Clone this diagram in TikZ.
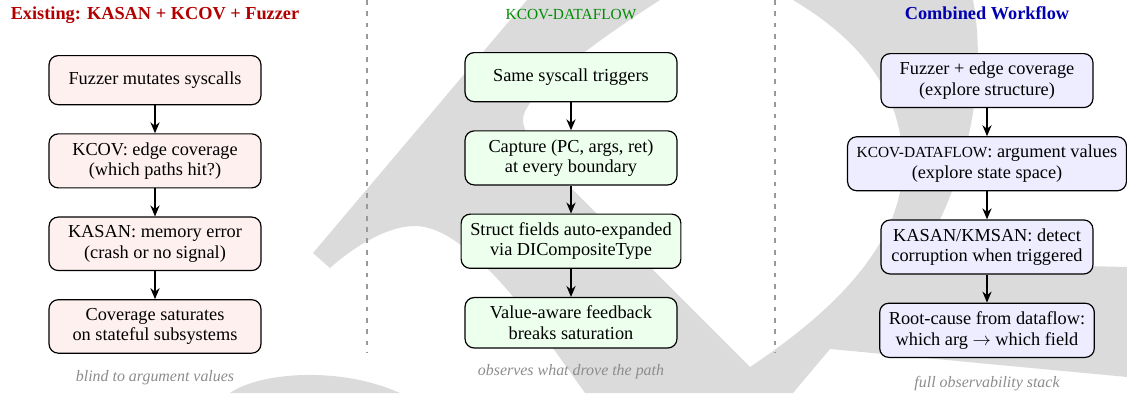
\documentclass[tikz,border=0pt]{standalone}
\usepackage{fontspec}
\setmainfont{Liberation Serif}
\usetikzlibrary{positioning, arrows.meta, calc}

\newcommand{\kdflow}{{\fontsize{8.4}{10}\selectfont KCOV-DATAFLOW}}

\tikzset{
  stage/.style={draw, line width=0.65pt, rounded corners=5pt, align=center, minimum width=115.7pt, minimum height=26.8pt, inner xsep=5pt, inner ysep=4.6pt, font=\fontsize{10}{11.2}\selectfont},
  stageA/.style={stage, fill=red!6},
  stageB/.style={stage, fill=green!7},
  stageC/.style={stage, fill=blue!7},
  flow/.style={-{Stealth[length=6pt,width=5pt]}, line width=0.85pt},
  heading/.style={anchor=base, font=\fontsize{10}{12}\selectfont\bfseries},
  note/.style={anchor=base, text=black!45, font=\fontsize{8.7}{10}\selectfont\itshape},
  divider/.style={dash pattern=on 2.6pt off 3.6pt, black!40, line width=0.6pt},
  wmark/.style={fill=black!14}
}

\begin{document}
\begin{tikzpicture}[x=0.546pt, y=0.546pt]
    \useasboundingbox (0,0) rectangle (1127,-393);
    \begin{scope}[yscale=-1]
        \fill [wmark] (313,253) -- (527,0) -- (660,0)
            .. controls (590,45) and (523,95) .. (523,120)
            .. controls (523,140) and (560,177) .. (580,197)
            -- (750,367)
            .. controls (820,320) and (905,250) .. (903,160)
            .. controls (900,90) and (860,40) .. (793,0)
            -- (973,0)
            .. controls (990,90) and (960,200) .. (915,262)
            -- (1127,267) -- (1127,377) -- (830,349) -- (793,393) -- (585,393)
            .. controls (540,330) and (470,226) .. (415,226)
            .. controls (385,226) and (350,250) .. (330,268)
            -- cycle;
        \fill [wmark] (230,393) .. controls (260,372) and (340,366) .. (400,393) -- cycle;
    \end{scope}
    \draw [divider] (367,0) -- (367,-353);
    \draw [divider] (775,0) -- (775,-353);

    \node (ttlA) [heading, text=red!70!black] at (155,-19) {Existing: KASAN + KCOV + Fuzzer};
    \node (ttlB) [heading, text=green!55!black, font=\normalfont] at (571,-19) {\kdflow};
    \node (ttlC) [heading, text=blue!70!black] at (987,-19) {Combined Workflow};

    \node (a1) [stageA, anchor=north] at (155,-55) {Fuzzer mutates syscalls};
    \node (a2) [stageA, below=15.3pt of a1] {KCOV: edge coverage\\(which paths hit?)};
    \node (a3) [stageA, below=15.3pt of a2] {KASAN: memory error\\(crash or no signal)};
    \node (a4) [stageA, below=15.3pt of a3] {Coverage saturates\\on stateful subsystems};
    \node (capA) [note] at ($(a4.south)+(0,-28)$) {blind to argument values};

    \node (b1) [stageB, anchor=north] at (571,-52) {Same syscall triggers};
    \node (b2) [stageB, below=15.3pt of b1] {Capture (PC, args, ret)\\at every boundary};
    \node (b3) [stageB, below=15.3pt of b2] {Struct fields auto-expanded\\via DICompositeType};
    \node (b4) [stageB, below=15.3pt of b3] {Value-aware feedback\\breaks saturation};
    \node (capB) [note] at ($(b4.south)+(0,-27)$) {observes what drove the path};

    \node (c1) [stageC, anchor=north] at (987,-53) {Fuzzer + edge coverage\\(explore structure)};
    \node (c2) [stageC, below=15.3pt of c1] {\kdflow: argument values\\(explore state space)};
    \node (c3) [stageC, below=15.3pt of c2] {KASAN/KMSAN: detect\\corruption when triggered};
    \node (c4) [stageC, below=15.3pt of c3] {Root-cause from dataflow:\\which arg $\rightarrow$ which field};
    \node (capC) [note] at ($(c4.south)+(0,-29)$) {full observability stack};

    \foreach \col in {a, b, c} {
        \draw [flow] (\col1) -- (\col2);
        \draw [flow] (\col2) -- (\col3);
        \draw [flow] (\col3) -- (\col4);
    }
\end{tikzpicture}
\end{document}
